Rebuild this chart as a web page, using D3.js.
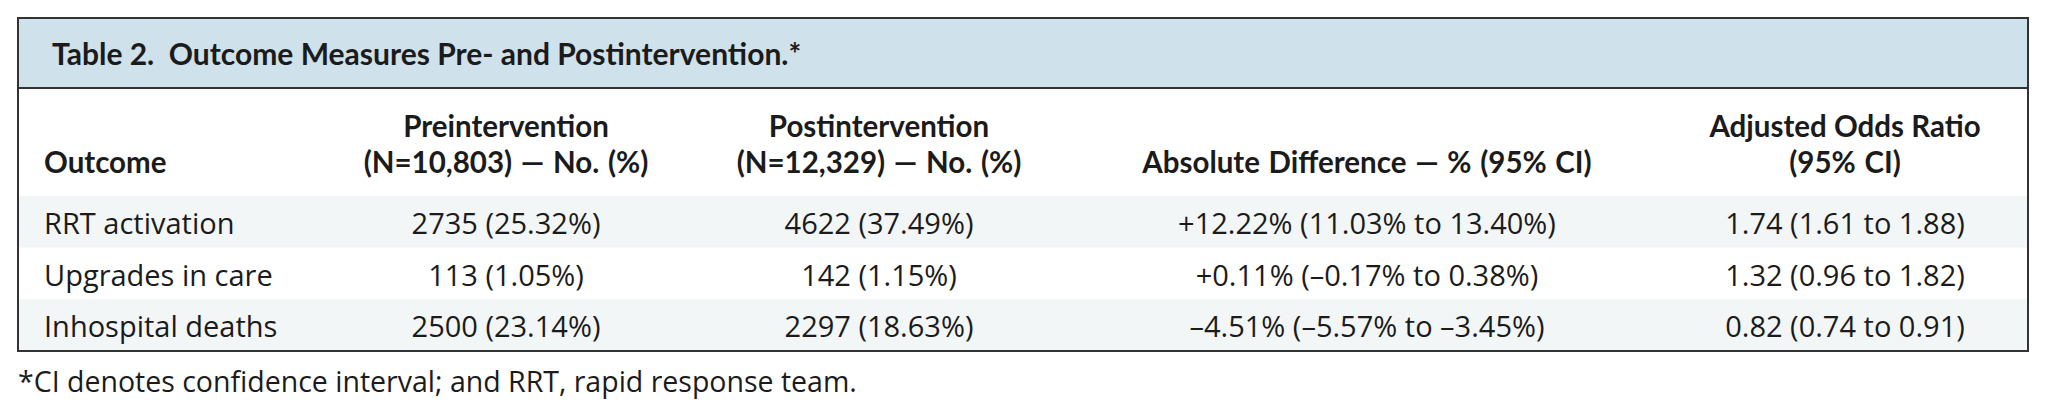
<!DOCTYPE html>
<html>
<head>
<meta charset="utf-8">
<script src="https://cdn.jsdelivr.net/npm/d3@7"></script>
<style>
  html, body { margin: 0; padding: 0; background: #ffffff; }
  svg { display: block; }
</style>
</head>
<body>
<svg id="chart" width="2048" height="412"></svg>
<script>
// ---- data ----
const title = "Table 2.  Outcome Measures Pre- and Postintervention.*";
const footnote = "*CI denotes confidence interval; and RRT, rapid response team.";
const columnKeys = ["outcome", "pre", "post", "diff", "or"];
const headerLine1 = ["", "Preintervention", "Postintervention", "", "Adjusted Odds Ratio"];
const headerLine2 = ["Outcome", "(N=10,803) — No. (%)", "(N=12,329) — No. (%)", "Absolute Difference — % (95% CI)", "(95% CI)"];
const outcomes = ["RRT activation", "Upgrades in care", "Inhospital deaths"];
const preValues = ["2735 (25.32%)", "113 (1.05%)", "2500 (23.14%)"];
const postValues = ["4622 (37.49%)", "142 (1.15%)", "2297 (18.63%)"];
const absDiffValues = ["+12.22% (11.03% to 13.40%)", "+0.11% (–0.17% to 0.38%)", "–4.51% (–5.57% to –3.45%)"];
const oddsRatioValues = ["1.74 (1.61 to 1.88)", "1.32 (0.96 to 1.82)", "0.82 (0.74 to 0.91)"];

// ---- layout ----
const svg = d3.select("#chart");
const box = { x0: 18, x1: 2028, y0: 18, y1: 351 };
const headBandBottom = 88;
const rowTop = 196;

const x = d3.scaleOrdinal().domain(columnKeys).range([44, 506, 879, 1367, 1845]);
const anchor = d3.scaleOrdinal().domain(columnKeys).range(["start", "middle", "middle", "middle", "middle"]);
const y = d3.scaleBand().domain(outcomes).range([rowTop, box.y1]).paddingInner(0).paddingOuter(0);

const bodyFont = "'Open Sans', sans-serif";
const headFont = "Lato, sans-serif";
const textColor = "#1b1b1b";

// title band
svg.append("rect")
  .attr("x", box.x0).attr("y", box.y0)
  .attr("width", box.x1 - box.x0).attr("height", headBandBottom - box.y0)
  .attr("fill", "#cfe1ea");

svg.append("text")
  .attr("x", 52).attr("y", 65)
  .attr("font-family", headFont).attr("font-weight", 700)
  .attr("font-size", 30).attr("fill", textColor)
  .attr("xml:space", "preserve")
  .style("white-space", "pre")
  .text(title);

// row shading
svg.selectAll("rect.row")
  .data(outcomes)
  .join("rect")
  .attr("class", "row")
  .attr("x", box.x0).attr("y", d => y(d))
  .attr("width", box.x1 - box.x0).attr("height", y.bandwidth())
  .attr("fill", (d, i) => i % 2 === 0 ? "#f3f6f6" : "#ffffff");

// column headers
const headG = svg.append("g")
  .attr("font-family", headFont).attr("font-weight", 700)
  .attr("font-size", 29.5).attr("fill", textColor);

headG.selectAll("text.h1")
  .data(columnKeys.map((k, i) => ({ k, t: headerLine1[i] })).filter(d => d.t))
  .join("text")
  .attr("class", "h1")
  .attr("x", d => x(d.k)).attr("y", 137)
  .attr("text-anchor", d => anchor(d.k))
  .text(d => d.t);

headG.selectAll("text.h2")
  .data(columnKeys.map((k, i) => ({ k, t: headerLine2[i] })))
  .join("text")
  .attr("class", "h2")
  .attr("x", d => x(d.k)).attr("y", 173)
  .attr("text-anchor", d => anchor(d.k))
  .attr("word-spacing", 1.5)
  .text(d => d.t);

// body cells
const rows = outcomes.map((o, i) => ({
  outcome: o, pre: preValues[i], post: postValues[i], diff: absDiffValues[i], or: oddsRatioValues[i]
}));

const bodyG = svg.append("g")
  .attr("font-family", bodyFont).attr("font-size", 29).attr("fill", textColor);

rows.forEach(r => {
  bodyG.selectAll(null)
    .data(columnKeys)
    .join("text")
    .attr("x", k => x(k))
    .attr("y", y(r.outcome) + 38)
    .attr("text-anchor", k => anchor(k))
    .text(k => r[k]);
});

// lines
svg.append("line")
  .attr("x1", box.x0).attr("x2", box.x1)
  .attr("y1", headBandBottom).attr("y2", headBandBottom)
  .attr("stroke", "#333").attr("stroke-width", 2);

svg.append("rect")
  .attr("x", box.x0).attr("y", box.y0)
  .attr("width", box.x1 - box.x0).attr("height", box.y1 - box.y0)
  .attr("fill", "none").attr("stroke", "#333").attr("stroke-width", 2);

// footnote
svg.append("text")
  .attr("x", 18).attr("y", 392)
  .attr("font-family", bodyFont).attr("font-size", 28.5).attr("fill", textColor)
  .text(footnote);
</script>
</body>
</html>
